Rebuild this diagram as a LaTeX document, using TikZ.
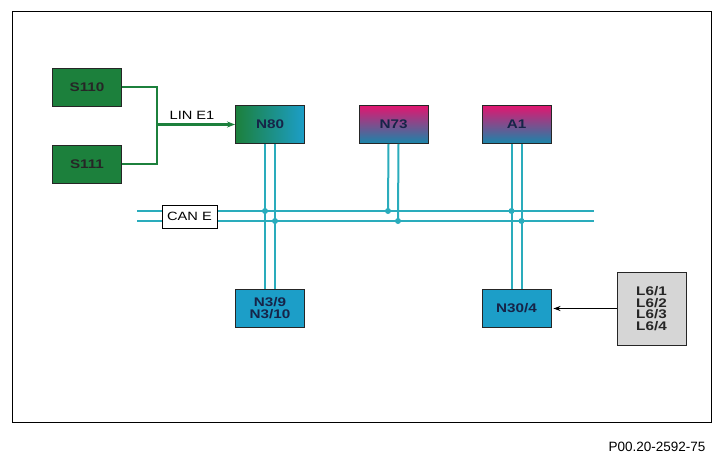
\documentclass[tikz,border=0pt]{standalone}
\usepackage{fontspec}
\setmainfont{Liberation Sans}
\newfontfamily\widesans[FakeStretch=1.22]{Liberation Sans}
\usetikzlibrary{arrows.meta,positioning}

\definecolor{swgreen}{RGB}{28,128,60}
\definecolor{canteal}{RGB}{42,172,188}
\definecolor{ecublue}{RGB}{28,158,200}
\definecolor{ecumagenta}{RGB}{226,22,112}
\definecolor{ecunavy}{RGB}{22,36,72}
\definecolor{lampgray}{RGB}{214,214,214}

\tikzset{
  unit/.style={draw=black!85, line width=0.9pt, minimum width=69pt, minimum height=38pt,
    inner sep=1pt, text=ecunavy, font=\widesans\bfseries\fontsize{12.5}{14}\selectfont, align=center},
  switchbox/.style={unit, fill=swgreen, text=black!85},
  gatewaybox/.style={unit, shading=axis, left color=swgreen, right color=ecublue, shading angle=90},
  topbox/.style={unit, shading=axis, top color=ecumagenta, bottom color=ecublue!85!black},
  lowbox/.style={unit, fill=ecublue},
  canline/.style={draw=canteal, line width=2pt},
  linline/.style={draw=swgreen, line width=2.4pt},
  tap/.style={fill=canteal, draw=none},
}

\begin{document}
\begin{tikzpicture}[x=1pt, y=-1pt]
  \useasboundingbox (0,0) rectangle (724,463);
  \draw[line width=0.9pt] (12,11) rectangle (711,422);

  % switches and LIN
  \node[switchbox] (s110) at (87,87) {S110};
  \node[switchbox] (s111) at (87,164) {S111};
  \node[gatewaybox] (n80) at (270,124.5) {N80};
  \coordinate (linjoin) at (157,124.5);
  \draw[linline] (s110.east) -| (linjoin) |- (s111.east);
  \draw[linline, -{Stealth[length=8pt,width=6pt]}] (linjoin) -- (n80.west)
    node[midway, above=0pt, xshift=-4pt, text=black, font=\widesans\fontsize{12}{13}\selectfont] {LIN E1};

  % control units
  \node[topbox] (n73) at (393.5,124.5) {N73};
  \node[topbox] (a1) at (516.5,124.5) {A1};
  \node[lowbox] (n39) at (270,308.5) {N3/9\\[-2pt]N3/10};
  \node[lowbox] (n304) at (516.5,308.5) {N30/4};
  \node[unit, fill=lampgray, text=black!85, minimum height=73pt,
    font=\widesans\bfseries\fontsize{12.5}{11.7}\selectfont] (l6) at (651.5,308.5) {L6/1\\L6/2\\L6/3\\L6/4};

  % CAN E bus
  \coordinate (canHw) at (137,211);
  \coordinate (canHe) at (594,211);
  \coordinate (canLw) at (137,221);
  \coordinate (canLe) at (594,221);
  \draw[canline] (canHw) -- (canHe);
  \draw[canline] (canLw) -- (canLe);
  \node[draw=black, line width=0.9pt, fill=white, minimum width=55pt, minimum height=23pt,
    inner sep=1pt, font=\widesans\fontsize{12}{13}\selectfont] (cane) at (189.5,216.5) {CAN E};

  % taps
  \coordinate (t80h) at (265,211);
  \coordinate (t80l) at (275,221);
  \coordinate (t73h) at (388,211);
  \coordinate (t73l) at (398,221);
  \coordinate (ta1h) at (511.5,211);
  \coordinate (ta1l) at (521.5,221);
  \draw[canline] ([xshift=-5pt]n80.south) -- ([xshift=-5pt]n39.north);
  \draw[canline] ([xshift=5pt]n80.south) -- ([xshift=5pt]n39.north);
  \draw[canline] ([xshift=-5pt]n73.south) -- (t73h);
  \draw[canline] ([xshift=5pt]n73.south) -- (t73l);
  \draw[canline] ([xshift=-5pt]a1.south) -- ([xshift=-5pt]n304.north);
  \draw[canline] ([xshift=5pt]a1.south) -- ([xshift=5pt]n304.north);
  \foreach \t in {t80h,t80l,t73h,t73l,ta1h,ta1l}
    \fill[tap] (\t) circle (3pt);

  \draw[line width=1.2pt, -{Stealth[length=7pt,width=5pt]}, shorten >=2pt] (l6.west) -- (n304.east);

  \node[font=\fontsize{13.5}{15}\selectfont, anchor=east] (fig) at (709,447) {P00.20-2592-75};
\end{tikzpicture}
\end{document}
